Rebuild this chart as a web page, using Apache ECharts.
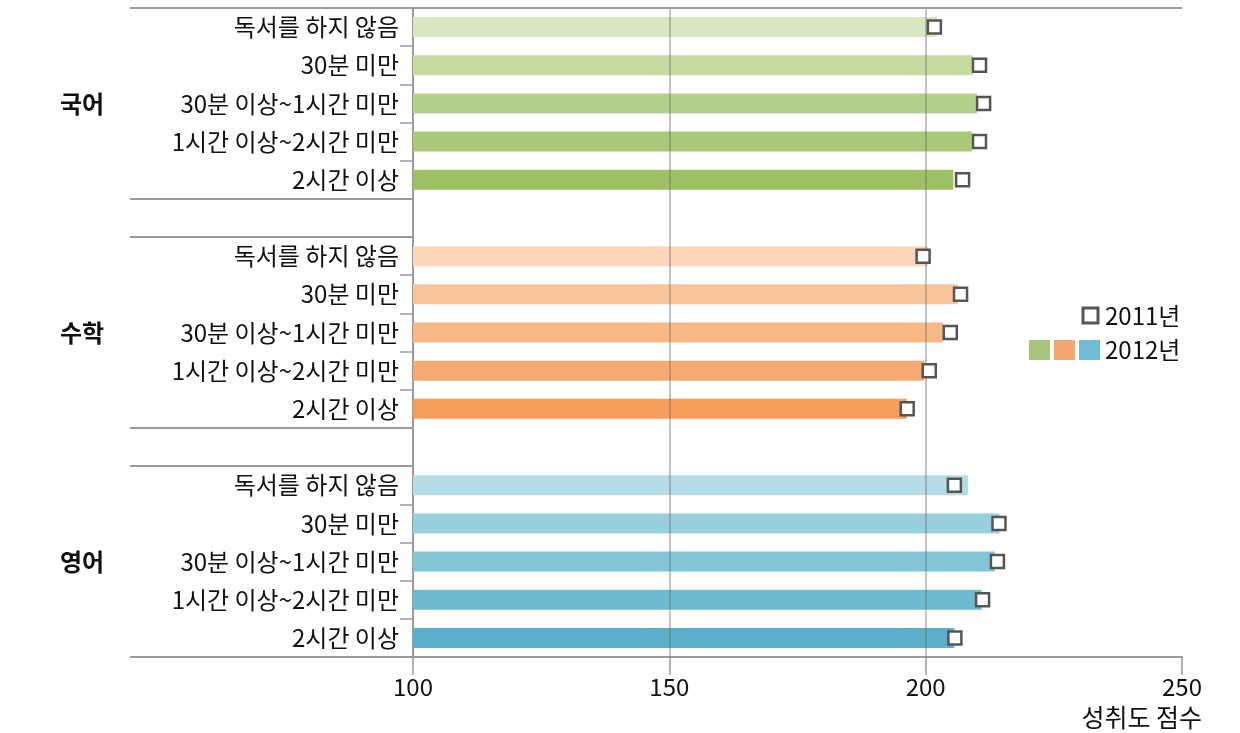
<!DOCTYPE html>
<html><head><meta charset="utf-8">
<script src="https://cdn.jsdelivr.net/npm/echarts@6/dist/echarts.min.js"></script>
<style>html,body{margin:0;padding:0;background:#fff}#c{width:1240px;height:733px}</style>
</head><body><div id="c"></div>
<script>
var subjects = ['국어', '수학', '영어'];
var readingTimes = ['독서를 하지 않음', '30분 미만', '30분 이상~1시간 미만', '1시간 이상~2시간 미만', '2시간 이상'];
var kor2012 = [202.2, 209.2, 210.0, 209.0, 205.4];
var kor2011 = [201.7, 210.5, 211.3, 210.5, 207.2];
var math2012 = [200.5, 206.3, 203.4, 199.7, 196.3];
var math2011 = [199.5, 206.8, 204.8, 200.7, 196.4];
var eng2012 = [208.3, 214.4, 213.5, 210.9, 205.6];
var eng2011 = [205.6, 214.3, 214.0, 211.1, 205.7];
var xTicks = [100, 150, 200, 250];
var gridValues = [150, 200];
var korColors = ['#d8e6c4', '#c5da9f', '#b5d08c', '#a9c87a', '#9dc064'];
var mathColors = ['#fcd5b8', '#fac49a', '#f8b884', '#f6aa72', '#f59d5a'];
var engColors = ['#b6dde6', '#98cfdc', '#84c5d7', '#6dbbd0', '#5aafca'];
var legendColors = ['#a8c67a', '#f5a66c', '#6bbcd4'];

var groups2012 = [kor2012, math2012, eng2012];
var groups2011 = [kor2011, math2011, eng2011];
var groupColors = [korColors, mathColors, engColors];

var cats = [], bars = [], marks = [];
for (var g = 0; g < 3; g++) {
  for (var i = 0; i < readingTimes.length; i++) {
    var idx = cats.length;
    cats.push(readingTimes[i]);
    bars.push({ value: groups2012[g][i], itemStyle: { color: groupColors[g][i] } });
    marks.push([groups2011[g][i], idx]);
  }
  if (g < 2) { cats.push(''); bars.push(null); }
}

var FONT = '"Noto Sans CJK KR", "Noto Sans", sans-serif';
var chart = echarts.init(document.getElementById('c'), null, { renderer: 'canvas' });
var option = {
  animation: false,
  backgroundColor: '#fff',
  grid: { left: 413, right: 58, top: 8, bottom: 76, containLabel: false },
  xAxis: {
    type: 'value', min: xTicks[0], max: xTicks[xTicks.length - 1], interval: 50,
    axisLine: { show: true, lineStyle: { color: '#9a9a9a', width: 2 } },
    axisTick: { show: true, length: 18, lineStyle: { color: '#9a9a9a', width: 1.5 } },
    axisLabel: { fontSize: 24, color: '#111', margin: 18, fontFamily: FONT },
    splitLine: { show: false }
  },
  yAxis: {
    type: 'category', data: cats, inverse: true,
    axisLine: { show: true, lineStyle: { color: '#9a9a9a', width: 2 } },
    axisTick: { show: true, length: 13, lineStyle: { color: '#9a9a9a', width: 1.5 } },
    axisLabel: { fontSize: 24, color: '#111', margin: 14, fontFamily: FONT },
    splitLine: { show: false }
  },
  series: [
    {
      name: '2012년', type: 'bar', data: bars, barWidth: 20, z: 2,
      markLine: {
        silent: true, symbol: ['none', 'none'], label: { show: false },
        lineStyle: { color: 'rgba(110,110,110,0.55)', width: 1.5, type: 'solid' },
        data: gridValues.map(function (v) { return { xAxis: v }; })
      }
    },
    {
      name: '2011년', type: 'scatter', data: marks, symbol: 'rect', symbolSize: 13, z: 5,
      itemStyle: { color: '#fff', borderColor: '#555', borderWidth: 2.5, opacity: 1 }
    }
  ]
};
chart.setOption(option);

function yPix(i) { return chart.convertToPixel({ yAxisIndex: 0 }, i); }
var left = 130, axisX = 413, rightX = 1182;
var half = (yPix(1) - yPix(0)) / 2;
var gl = [];
var lineStyle = { stroke: '#9a9a9a', lineWidth: 2 };
var topY = yPix(0) - half, botY = yPix(cats.length - 1) + half;
gl.push({ type: 'line', shape: { x1: left, y1: topY, x2: rightX, y2: topY }, style: lineStyle, z: 10 });
gl.push({ type: 'line', shape: { x1: left, y1: botY, x2: axisX, y2: botY }, style: lineStyle, z: 10 });
[5, 11].forEach(function (b) {
  var y1 = yPix(b) - half, y2 = yPix(b) + half;
  gl.push({ type: 'line', shape: { x1: left, y1: y1, x2: axisX, y2: y1 }, style: lineStyle, z: 10 });
  gl.push({ type: 'line', shape: { x1: left, y1: y2, x2: axisX, y2: y2 }, style: lineStyle, z: 10 });
});
subjects.forEach(function (s, g) {
  var y = yPix(g * 6 + 2);
  gl.push({ type: 'text', x: 82, y: y, style: { text: s, font: 'bold 24px ' + FONT, fill: '#111', textAlign: 'center', textVerticalAlign: 'middle' }, z: 10 });
});
// legend
gl.push({ type: 'rect', shape: { x: 1083, y: 308, width: 15, height: 15 }, style: { fill: '#fff', stroke: '#555', lineWidth: 3 }, z: 10 });
gl.push({ type: 'text', x: 1105, y: 316, style: { text: '2011년', font: '24px ' + FONT, fill: '#111', textVerticalAlign: 'middle' }, z: 10 });
legendColors.forEach(function (c, k) {
  gl.push({ type: 'rect', shape: { x: 1029 + k * 25, y: 340, width: 21, height: 20 }, style: { fill: c }, z: 10 });
});
gl.push({ type: 'text', x: 1105, y: 350, style: { text: '2012년', font: '24px ' + FONT, fill: '#111', textVerticalAlign: 'middle' }, z: 10 });
gl.push({ type: 'text', x: 1202, y: 717, style: { text: '성취도 점수', font: '25px ' + FONT, fill: '#111', textAlign: 'right', textVerticalAlign: 'middle' }, z: 10 });
chart.setOption({ graphic: gl });
</script></body></html>
